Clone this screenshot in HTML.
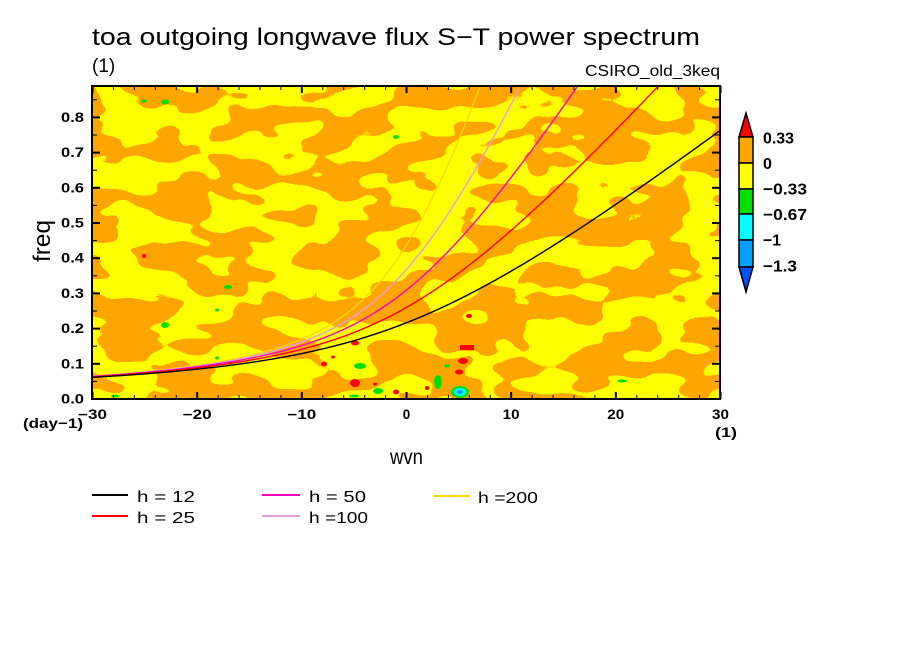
<!DOCTYPE html>
<html><head><meta charset="utf-8"><style>html,body{margin:0;padding:0;background:#fff;}svg{display:block}</style></head>
<body>
<svg id="s" width="904" height="654" viewBox="0 0 904 654" xmlns="http://www.w3.org/2000/svg" font-family="'Liberation Sans', sans-serif">
<defs>
<clipPath id="pc"><rect x="92" y="86" width="628" height="313"/></clipPath>
<filter id="nz" filterUnits="userSpaceOnUse" x="92" y="86" width="628" height="313" color-interpolation-filters="sRGB">
<feTurbulence type="fractalNoise" baseFrequency="0.019 0.037" numOctaves="2" seed="11" result="t"/>
<feColorMatrix in="t" type="matrix" values="0 0 0 0 1  0 0 0 0 0.647  0 0 0 0 0  1 0 0 0 0"/>
<feComponentTransfer><feFuncA type="discrete" tableValues="0 1"/></feComponentTransfer>
</filter>
</defs>
<rect x="0" y="0" width="904" height="654" fill="#fff"/>
<rect x="92" y="86" width="628" height="313" fill="#ffff00"/>
<rect x="92" y="86" width="628" height="313" fill="#000" filter="url(#nz)"/>
<g clip-path="url(#pc)">
<g fill="#00e000">
<ellipse cx="144" cy="101" rx="3" ry="1.5"/><ellipse cx="165" cy="102" rx="4" ry="2.5"/><ellipse cx="396" cy="137" rx="3" ry="2"/>
<ellipse cx="228" cy="287" rx="4" ry="2"/><ellipse cx="217" cy="310" rx="2" ry="1.5"/><ellipse cx="165" cy="325" rx="4" ry="3"/>
<ellipse cx="217" cy="358" rx="2" ry="1.5"/><ellipse cx="360" cy="366" rx="6" ry="3"/><ellipse cx="378" cy="391" rx="5" ry="3"/>
<ellipse cx="354" cy="396" rx="5" ry="1.5"/><ellipse cx="115" cy="396" rx="4" ry="1.5"/><ellipse cx="438" cy="382" rx="4" ry="7"/>
<ellipse cx="622" cy="381" rx="5" ry="1.5"/><ellipse cx="447" cy="366" rx="3" ry="1.5"/>
<ellipse cx="460" cy="392" rx="9" ry="6"/>
</g>
<ellipse cx="460" cy="392" rx="6" ry="4" fill="#00ffff"/>
<ellipse cx="460" cy="392" rx="3" ry="2" fill="#00a0ff"/>
<g fill="#ff0000">
<ellipse cx="144" cy="256" rx="2" ry="2"/><ellipse cx="355" cy="343" rx="4" ry="2.5"/><ellipse cx="333" cy="357" rx="2" ry="1.5"/>
<ellipse cx="324" cy="364" rx="3" ry="2.5"/><ellipse cx="355" cy="383" rx="5" ry="4"/><ellipse cx="396" cy="392" rx="3" ry="2.5"/>
<ellipse cx="375" cy="384" rx="2" ry="1.5"/><ellipse cx="469" cy="316" rx="3" ry="2"/><rect x="460" y="345" width="14" height="5"/>
<ellipse cx="463" cy="361" rx="5" ry="3"/><ellipse cx="459" cy="372" rx="4" ry="2.5"/><ellipse cx="427" cy="388" rx="2" ry="2"/>
</g>
<g id="curves" fill="none" stroke-width="1.4"></g>
</g>
<rect x="92" y="86" width="628" height="313" fill="none" stroke="#000" stroke-width="2"/>
<g id="ticks" stroke="#000"></g>

<text x="92" y="45" font-size="24" textLength="608" lengthAdjust="spacingAndGlyphs">toa outgoing longwave flux S−T power spectrum</text>
<text x="92" y="72" font-size="19">(1)</text>
<text x="585" y="76" font-size="16" textLength="135" lengthAdjust="spacingAndGlyphs">CSIRO_old_3keq</text>

<g font-size="13.5" font-weight="bold" text-anchor="end">
<text x="84" y="403.5" textLength="23" lengthAdjust="spacingAndGlyphs">0.0</text>
<text x="84" y="368.3" textLength="23" lengthAdjust="spacingAndGlyphs">0.1</text>
<text x="84" y="333.1" textLength="23" lengthAdjust="spacingAndGlyphs">0.2</text>
<text x="84" y="297.9" textLength="23" lengthAdjust="spacingAndGlyphs">0.3</text>
<text x="84" y="262.7" textLength="23" lengthAdjust="spacingAndGlyphs">0.4</text>
<text x="84" y="227.5" textLength="23" lengthAdjust="spacingAndGlyphs">0.5</text>
<text x="84" y="192.3" textLength="23" lengthAdjust="spacingAndGlyphs">0.6</text>
<text x="84" y="157.1" textLength="23" lengthAdjust="spacingAndGlyphs">0.7</text>
<text x="84" y="121.9" textLength="23" lengthAdjust="spacingAndGlyphs">0.8</text>
</g>
<g font-size="13.5" font-weight="bold" text-anchor="middle">
<text x="92.5" y="419" textLength="29" lengthAdjust="spacingAndGlyphs">−30</text>
<text x="197.2" y="419" textLength="29" lengthAdjust="spacingAndGlyphs">−20</text>
<text x="301.8" y="419" textLength="29" lengthAdjust="spacingAndGlyphs">−10</text>
<text x="406.5" y="419">0</text>
<text x="511.2" y="419" textLength="17" lengthAdjust="spacingAndGlyphs">10</text>
<text x="615.8" y="419" textLength="17" lengthAdjust="spacingAndGlyphs">20</text>
<text x="720.5" y="419" textLength="17" lengthAdjust="spacingAndGlyphs">30</text>
</g>
<text x="23" y="428" font-size="14" font-weight="bold" textLength="60" lengthAdjust="spacingAndGlyphs">(day−1)</text>
<text x="715" y="437" font-size="14" font-weight="bold" textLength="22" lengthAdjust="spacingAndGlyphs">(1)</text>
<text x="390" y="464" font-size="21" textLength="33" lengthAdjust="spacingAndGlyphs">wvn</text>
<text transform="translate(50,241) rotate(-90)" font-size="24" text-anchor="middle" textLength="42" lengthAdjust="spacingAndGlyphs">freq</text>

<g stroke="#000" stroke-width="1.5">
<polygon points="739,137 753,137 746,113" fill="#ff0000"/>
<rect x="739" y="137" width="14" height="26" fill="#ffa500"/>
<rect x="739" y="163" width="14" height="26" fill="#ffff00"/>
<rect x="739" y="189" width="14" height="25" fill="#00e000"/>
<rect x="739" y="214" width="14" height="26" fill="#00ffff"/>
<rect x="739" y="240" width="14" height="27" fill="#00a0ff"/>
<polygon points="739,267 753,267 746,292" fill="#0050ff"/>
</g>
<g font-size="16" font-weight="bold">
<text x="763" y="143.5" textLength="31" lengthAdjust="spacingAndGlyphs">0.33</text>
<text x="763" y="169">0</text>
<text x="763" y="194.5" textLength="44" lengthAdjust="spacingAndGlyphs">−0.33</text>
<text x="763" y="220" textLength="44" lengthAdjust="spacingAndGlyphs">−0.67</text>
<text x="763" y="245.5" textLength="18" lengthAdjust="spacingAndGlyphs">−1</text>
<text x="763" y="271.5" textLength="34" lengthAdjust="spacingAndGlyphs">−1.3</text>
</g>

<g stroke-width="2">
<line x1="92" y1="495" x2="128" y2="495" stroke="#000"/>
<line x1="92" y1="516" x2="128" y2="516" stroke="#ff0000"/>
<line x1="262" y1="495" x2="300" y2="495" stroke="#ff00c0"/>
<line x1="262" y1="516" x2="300" y2="516" stroke="#e0a0e0"/>
<line x1="433" y1="496" x2="470" y2="496" stroke="#ffd700"/>
</g>
<g font-size="16">
<text x="137" y="502" textLength="58" lengthAdjust="spacingAndGlyphs">h = 12</text>
<text x="137" y="523" textLength="58" lengthAdjust="spacingAndGlyphs">h = 25</text>
<text x="309" y="502" textLength="57" lengthAdjust="spacingAndGlyphs">h = 50</text>
<text x="309" y="523" textLength="59" lengthAdjust="spacingAndGlyphs">h =100</text>
<text x="478" y="503" textLength="60" lengthAdjust="spacingAndGlyphs">h =200</text>
</g>
</svg>
<script>
(function(){
var NS="http://www.w3.org/2000/svg";
function X(s){return 92.5+(s+30)*10.467;}
function Y(f){return 399-f*352;}
var a=6.371e6,beta=2*7.292e-5/a;
function fr(s,h){var c=Math.sqrt(9.8*h),k=s/a,t=k*c/2;return (t+Math.sqrt(t*t+beta*c))*86400/(2*Math.PI);}
var hs=[[200,"#ffd700"],[100,"#e0a0e0"],[50,"#ff00c0"],[25,"#ff0000"],[12,"#000000"]];
var g=document.getElementById("curves");
hs.forEach(function(p){
  var d="";
  for(var s=-30;s<=30.001;s+=0.2){
    var f=fr(s,p[0]);
    d+=(d?"L":"M")+X(s).toFixed(2)+","+Y(f).toFixed(2);
    if(f>0.95)break;
  }
  var pa=document.createElementNS(NS,"path");
  pa.setAttribute("d",d);pa.setAttribute("stroke",p[1]);
  g.appendChild(pa);
});
var tg=document.getElementById("ticks");
function ln(x1,y1,x2,y2,w){var l=document.createElementNS(NS,"line");l.setAttribute("x1",x1);l.setAttribute("y1",y1);l.setAttribute("x2",x2);l.setAttribute("y2",y2);l.setAttribute("stroke-width",w);tg.appendChild(l);}
for(var i=0;i<=30;i++){
  var s=-30+2*i,x=X(s),maj=(i%5==0);
  var L=maj?7:4,w=maj?2:1;
  ln(x,86,x,86+L,w);ln(x,399,x,399-L,w);
}
for(var j=0;j<=17;j++){
  var y=Y(j*0.05),maj=(j%2==0);
  var L=maj?8:5,w=maj?2:1;
  ln(92,y,92+L,y,w);ln(720,y,720-L,y,w);
}
})();
</script>
</body></html>
